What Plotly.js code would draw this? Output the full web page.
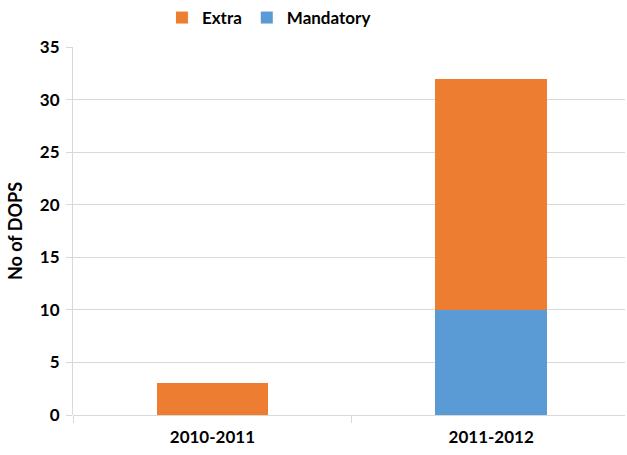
<!DOCTYPE html>
<html><head><meta charset="utf-8">
<script src="https://cdn.plot.ly/plotly-3.0.1.min.js"></script>
<style>body{margin:0;}#c{width:627px;height:455px;}</style>
</head><body><div id="c"></div>
<script>
const categories = ["2010-2011", "2011-2012"];
const mandatory = [0, 10];
const extra = [3, 22];
const tickVals = [0, 5, 10, 15, 20, 25, 30, 35];

const fontFam = "Lato, 'Open Sans', sans-serif";
const traces = [
  {type: "bar", name: "Mandatory", x: categories, y: mandatory, marker: {color: "#5B9BD5"}},
  {type: "bar", name: "Extra", x: categories, y: extra, marker: {color: "#ED7D31"}}
];
const layout = {
  width: 627, height: 455,
  margin: {l: 73, r: 2, t: 47, b: 40},
  barmode: "stack",
  bargap: 0.6,
  paper_bgcolor: "#fff", plot_bgcolor: "#fff",
  font: {family: fontFam, size: 17, color: "#000", weight: "bold"},
  showlegend: true,
  legend: {orientation: "h", x: 0.355, xanchor: "center", y: 1.0, yref: "container", yanchor: "top",
    traceorder: "reversed", font: {size: 17, weight: "bold"}, itemwidth: 30},
  xaxis: {type: "category", range: [-0.5, 1.48], showgrid: false, showline: false, ticks: "outside", tickson: "boundaries",
    ticklen: 7, tickcolor: "#d9d9d9", tickfont: {size: 17, weight: "bold"}, ticklabelstandoff: 10},
  yaxis: {range: [0, 35], tickvals: tickVals, showgrid: true, gridcolor: "#d9d9d9", gridwidth: 1,
    zeroline: true, zerolinecolor: "#d9d9d9", showline: true, linecolor: "#d9d9d9",
    ticks: "outside", ticklen: 6, tickcolor: "#d9d9d9",
    tickfont: {size: 17, weight: "bold"}, ticklabelstandoff: 3,
    title: {text: "No of DOPS", font: {size: 18, weight: "bold"}, standoff: 12}}
};
Plotly.newPlot("c", traces, layout, {displayModeBar: false});
</script></body></html>
